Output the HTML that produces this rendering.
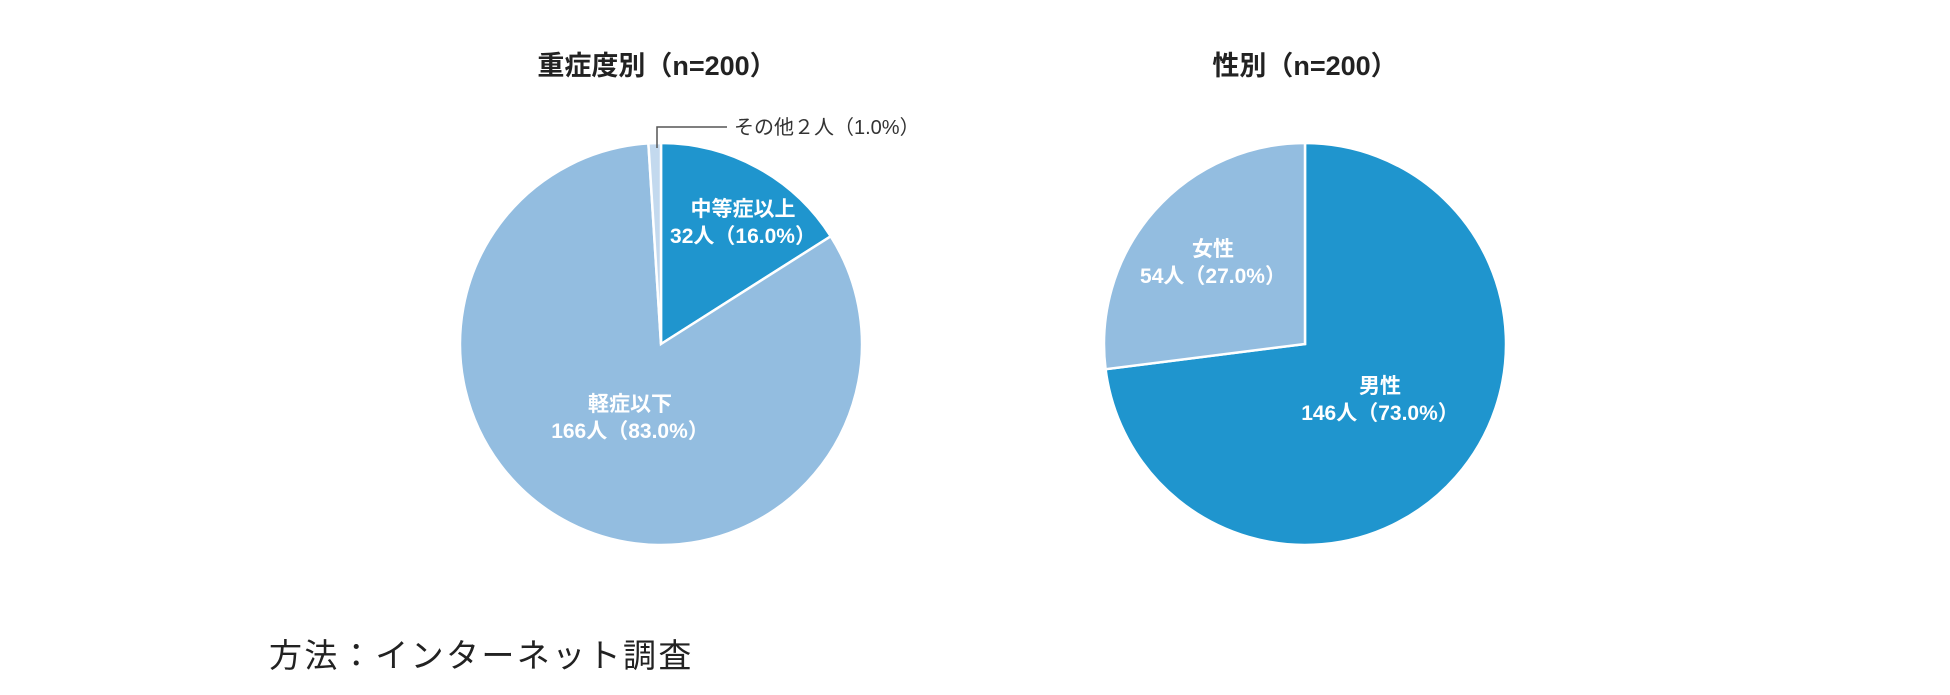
<!DOCTYPE html>
<html><head><meta charset="utf-8"><style>
body{margin:0;background:#fff;width:1950px;height:690px;overflow:hidden;font-family:"Liberation Sans","Noto Sans CJK JP",sans-serif}
</style></head><body>
<svg id="c" width="1950" height="690" xmlns="http://www.w3.org/2000/svg" style="font-family:'Liberation Sans','Noto Sans CJK JP',sans-serif">
<text x="657" y="75" text-anchor="middle" font-size="27" font-weight="bold" fill="#222">重症度別（n=200）</text>
<text x="1305" y="75" text-anchor="middle" font-size="27" font-weight="bold" fill="#222">性別（n=200）</text>
<text x="269" y="667" font-size="33" letter-spacing="2.4" fill="#222">方法：インターネット調査</text>
<g id="g1"></g><g id="g2"></g>
<polyline points="657,148 657,127 727,127" fill="none" stroke="#555" stroke-width="1.5"/>
<text x="734" y="134" font-size="20" fill="#333">その他２人（1.0%）</text>
</svg>
<script>
const sevCats=["中等症以上","軽症以下","その他"];
const sevVals=[32,166,2];
const genCats=["男性","女性"];
const genVals=[146,54];
const NS="http://www.w3.org/2000/svg";
function pie(gid,cx,cy,r,cats,vals,colors,labels){
  const g=document.getElementById(gid);
  const tot=vals.reduce((a,b)=>a+b,0);
  let a=0;
  vals.forEach((v,i)=>{
    const a0=a/tot*2*Math.PI,a1=(a+v)/tot*2*Math.PI;a+=v;
    const x0=cx+r*Math.sin(a0),y0=cy-r*Math.cos(a0),x1=cx+r*Math.sin(a1),y1=cy-r*Math.cos(a1);
    const p=document.createElementNS(NS,"path");
    p.setAttribute("d",`M${cx},${cy}L${x0},${y0}A${r},${r} 0 ${a1-a0>Math.PI?1:0} 1 ${x1},${y1}Z`);
    p.setAttribute("fill",colors[i]);p.setAttribute("stroke","#fff");p.setAttribute("stroke-width","2.5");
    
    
    g.appendChild(p);
    if(labels[i]){
      const [lx,ly]=labels[i];
      const pct=(v/tot*100).toFixed(1);
      [[cats[i],ly],[v+"人（"+pct+"%）",ly+27]].forEach((l,k)=>{
        const t=document.createElementNS(NS,"text");
        t.setAttribute("x",lx);t.setAttribute("y",l[1]);t.setAttribute("text-anchor","middle");
        t.setAttribute("font-size","21");t.setAttribute("font-weight","bold");t.setAttribute("fill","#fff");
        t.textContent=l[0];
        
        
        g.appendChild(t);
      });
    }
  });
}
pie("g1",661,344,201,sevCats,sevVals,["#1f95ce","#93bde0","#c3d9ee"],[[743,216],[630,411],null]);
pie("g2",1305,344,201,genCats,genVals,["#1f95ce","#93bde0"],[[1380,393],[1213,256]]);
</script>
</body></html>
